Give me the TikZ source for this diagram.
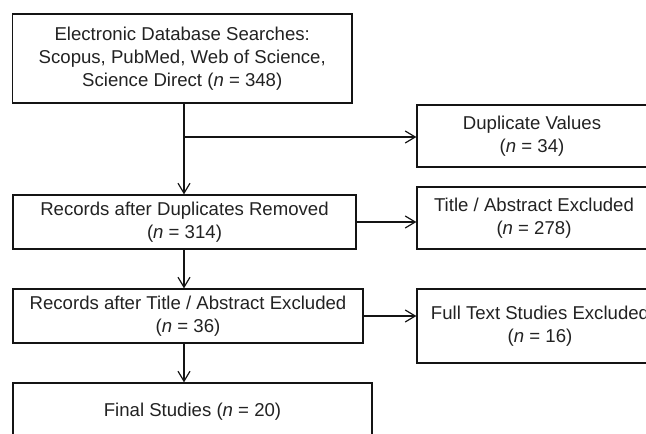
\documentclass[tikz,border=0pt]{standalone}
\usepackage{fontspec}
\setmainfont{Liberation Sans}
\usetikzlibrary{arrows.meta}
\definecolor{txt}{RGB}{34,34,34}
\definecolor{ln}{RGB}{20,20,20}
\begin{document}
\begin{tikzpicture}[x=1pt,y=-1pt,
  box/.style={draw=ln, line width=1.2pt, inner sep=0pt, align=center,
    text=txt, font=\fontsize{18.6}{23}\selectfont},
  arr/.style={draw=ln, line width=1.2pt, -{Straight Barb[length=10pt,width=12pt]}}]
\useasboundingbox (0,0) rectangle (646,434);
\clip (0,0) rectangle (646,434);
\node[box, minimum width=339.5pt, minimum height=89pt] (b1) at (182.25,58.5)
  {Electronic Database Searches:\\Scopus, PubMed, Web of Science,\\Science Direct (\textit{n} = 348)};
\node[box, minimum width=230pt, minimum height=62pt] (dup) at (532,136)
  {Duplicate Values\\(\textit{n} = 34)};
\node[box, minimum width=343pt, minimum height=54pt] (b2) at (184.5,222)
  {Records after Duplicates Removed\\(\textit{n} = 314)};
\node[box, minimum width=234pt, minimum height=62pt] (tit) at (534,218)
  {Title / Abstract Excluded\\(\textit{n} = 278)};
\node[box, minimum width=350pt, minimum height=54pt] (b3) at (188,316)
  {Records after Title / Abstract Excluded\\(\textit{n} = 36)};
\node[box, minimum width=246pt, minimum height=74pt] (full) at (540,326)
  {Full Text Studies Excluded\\(\textit{n} = 16)};
\node[box, minimum width=359pt, minimum height=58pt] (b4) at (192.5,412)
  {Final Studies (\textit{n} = 20)};
\coordinate (xl) at (184,0);
\coordinate (xd) at (184,137);
\draw[arr] (b1.south -| xl) -- (b2.north -| xl);
\draw[arr] (xd) -- (xd -| dup.west);
\draw[arr] (b2.east) -- (b2.east -| tit.west);
\draw[arr] (b2.south -| xl) -- (b3.north -| xl);
\draw[arr] (b3.east) -- (b3.east -| full.west);
\draw[arr] (b3.south -| xl) -- (b4.north -| xl);
\end{tikzpicture}
\end{document}
